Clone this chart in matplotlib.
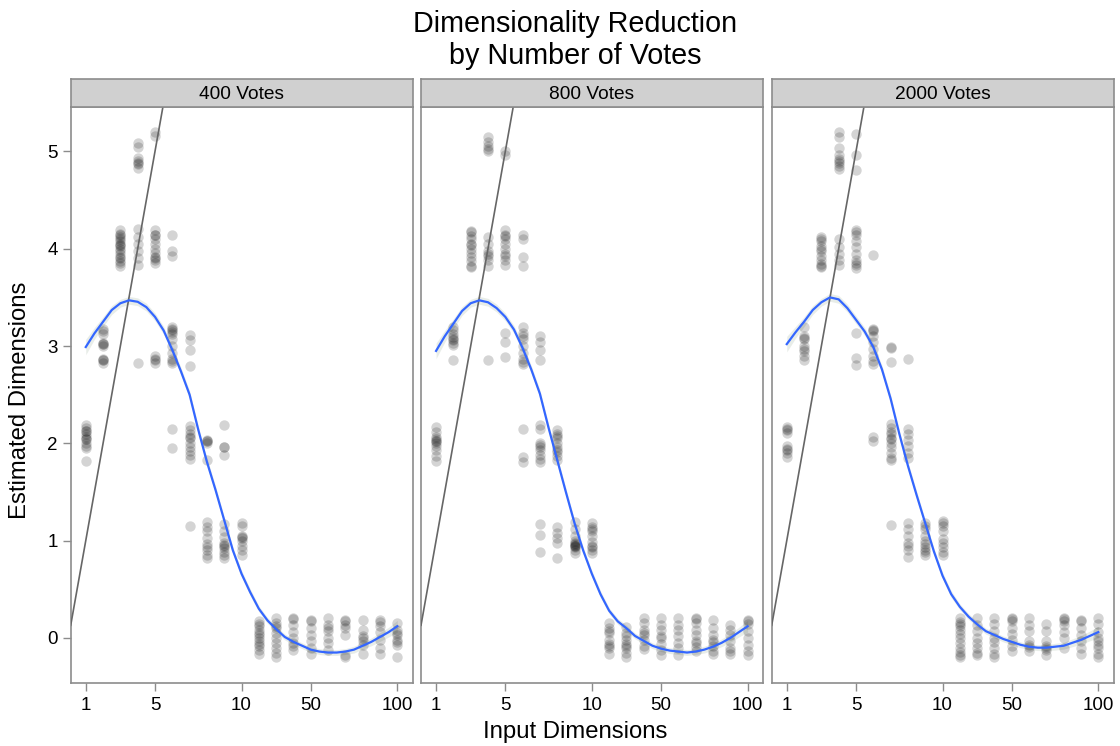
import matplotlib
matplotlib.use("Agg")
import matplotlib.pyplot as plt
import numpy as np

plt.rcParams['font.family'] = ['Liberation Sans', 'DejaVu Sans']

# input dimensions, evenly spaced by rank on the x axis
dims = [1, 2, 3, 4, 5, 6, 7, 8, 9, 10, 20, 30, 40, 50, 60, 70, 80, 90, 100]
tick_dims = [1, 5, 10, 50, 100]
panel_titles = ["400 Votes", "800 Votes", "2000 Votes"]

# estimated dimensions per input dimension (one list per column)
est_400 = [
    [2.19, 2.16, 2.13, 2.13, 2.10, 2.07, 2.04, 2.04, 2.0, 1.97, 1.95, 1.82],
    [3.18, 3.15, 3.12, 3.03, 3.02, 3.02, 3.0, 2.87, 2.86, 2.86, 2.83],
    [4.19, 4.15, 4.14, 4.12, 4.1, 4.08, 4.05, 4.04, 4.03, 4.0, 3.98, 3.95, 3.92, 3.9, 3.87, 3.85, 3.82],
    [5.09, 5.05, 4.93, 4.90, 4.88, 4.87, 4.83, 4.2, 4.12, 4.05, 3.98, 3.9, 3.83, 2.83],
    [5.2, 5.16, 4.19, 4.14, 4.14, 4.1, 4.05, 4.0, 3.96, 3.92, 3.9, 3.88, 3.85, 2.9, 2.87, 2.86, 2.83],
    [4.14, 3.98, 3.93, 3.2, 3.18, 3.17, 3.14, 3.12, 3.07, 3.0, 2.93, 2.87, 2.85, 2.83, 2.15, 1.95],
    [3.11, 3.06, 2.96, 2.8, 2.18, 2.14, 2.1, 2.07, 2.05, 2.0, 1.96, 1.92, 1.88, 1.84, 1.15],
    [2.03, 2.02, 2.02, 2.0, 1.83, 1.19, 1.14, 1.1, 1.03, 0.97, 0.93, 0.9, 0.85, 0.82],
    [2.19, 1.96, 1.96, 1.88, 1.17, 1.1, 1.04, 0.98, 0.96, 0.95, 0.92, 0.88, 0.85, 0.82],
    [1.18, 1.15, 1.05, 1.04, 1.03, 1.0, 0.95, 0.9, 0.85],
    [0.17, 0.14, 0.12, 0.08, 0.05, 0.03, 0.0, -0.03, -0.06, -0.08, -0.12, -0.17],
    [0.2, 0.15, 0.12, 0.1, 0.05, 0.0, -0.05, -0.1, -0.15, -0.2],
    [0.2, 0.19, 0.13, 0.06, 0.0, -0.05, -0.08, -0.12],
    [0.18, 0.17, 0.1, 0.03, -0.03, -0.1, -0.17],
    [0.2, 0.13, 0.1, 0.07, 0.0, -0.05, -0.12],
    [0.18, 0.17, 0.13, 0.1, 0.03, -0.18, -0.2],
    [0.18, 0.08, 0.02, 0.0, -0.03, -0.07, -0.17],
    [0.18, 0.16, 0.12, 0.06, -0.02, -0.1, -0.17],
    [0.15, 0.08, 0.05, 0.03, -0.02, -0.04, -0.07, -0.2],
]
est_800 = [
    [2.17, 2.12, 2.07, 2.04, 2.02, 2.02, 2.0, 1.97, 1.93, 1.87, 1.82],
    [3.2, 3.16, 3.12, 3.09, 3.07, 3.06, 3.03, 3.01, 2.86],
    [4.18, 4.17, 4.13, 4.1, 4.05, 4.04, 4.0, 3.96, 3.92, 3.87, 3.82, 3.81],
    [5.15, 5.1, 5.06, 5.03, 5.0, 4.12, 4.05, 3.98, 3.95, 3.93, 3.88, 3.82, 2.86],
    [5.0, 4.96, 4.19, 4.14, 4.13, 4.1, 4.05, 4.0, 3.95, 3.93, 3.88, 3.83, 3.13, 3.04, 2.89],
    [4.14, 4.1, 3.92, 3.82, 3.2, 3.13, 3.1, 3.07, 3.0, 2.93, 2.87, 2.84, 2.82, 2.15, 1.86, 1.81],
    [3.1, 3.04, 2.96, 2.86, 2.19, 2.15, 2.0, 1.98, 1.96, 1.93, 1.88, 1.84, 1.81, 1.17, 1.06, 0.88],
    [2.14, 2.1, 2.08, 2.06, 2.0, 1.96, 1.93, 1.91, 1.87, 1.83, 1.14, 1.08, 1.03, 0.98, 0.82],
    [1.19, 1.12, 1.05, 1.0, 0.98, 0.97, 0.96, 0.95, 0.94, 0.93, 0.9, 0.87],
    [1.18, 1.14, 1.12, 1.1, 1.05, 0.99, 0.95, 0.93, 0.9, 0.87],
    [0.15, 0.1, 0.07, 0.05, -0.02, -0.06, -0.08, -0.1, -0.16],
    [0.11, 0.05, 0.02, -0.02, -0.06, -0.08, -0.1, -0.15, -0.2],
    [0.2, 0.15, 0.08, 0.05, 0.03, -0.02, -0.08, -0.11],
    [0.2, 0.13, 0.08, 0.02, 0.0, -0.06, -0.12, -0.18],
    [0.2, 0.13, 0.08, 0.02, -0.05, -0.1, -0.18],
    [0.2, 0.19, 0.15, 0.08, 0.03, -0.03, -0.05, -0.09, -0.13],
    [0.18, 0.1, 0.03, -0.02, -0.04, -0.08, -0.13, -0.16],
    [0.13, 0.08, 0.03, -0.03, -0.1, -0.13, -0.17],
    [0.18, 0.17, 0.14, 0.07, 0.0, -0.07, -0.13, -0.18],
]
est_2000 = [
    [2.17, 2.15, 2.14, 2.11, 1.97, 1.94, 1.93, 1.9, 1.86],
    [3.2, 3.1, 3.08, 3.07, 3.0, 2.97, 2.95, 2.9, 2.86],
    [4.12, 4.1, 4.08, 4.03, 4.0, 3.98, 3.93, 3.88, 3.84, 3.82, 3.81],
    [5.2, 5.15, 5.04, 4.96, 4.92, 4.9, 4.88, 4.85, 4.82, 4.1, 4.02, 3.95, 3.88, 3.83],
    [5.18, 4.96, 4.81, 4.19, 4.17, 4.14, 4.08, 4.02, 3.95, 3.88, 3.85, 3.83, 3.8, 3.13, 2.88, 2.81],
    [3.94, 3.18, 3.16, 3.15, 3.1, 3.04, 2.97, 2.9, 2.85, 2.82, 2.07, 2.02],
    [2.99, 2.98, 2.84, 2.2, 2.16, 2.12, 2.1, 2.05, 2.04, 2.0, 1.96, 1.9, 1.85, 1.83, 1.16],
    [2.87, 2.15, 2.1, 2.03, 1.97, 1.9, 1.85, 1.18, 1.12, 1.05, 0.98, 0.95, 0.9, 0.83],
    [1.18, 1.15, 1.12, 1.05, 1.0, 0.97, 0.93, 0.9, 0.88, 0.85],
    [1.2, 1.18, 1.15, 1.1, 1.02, 0.98, 0.93, 0.88, 0.85],
    [0.2, 0.16, 0.14, 0.12, 0.08, 0.04, 0.0, -0.05, -0.1, -0.14, -0.18, -0.2],
    [0.2, 0.13, 0.07, 0.0, -0.05, -0.1, -0.15, -0.18],
    [0.2, 0.14, 0.07, 0.0, -0.04, -0.1, -0.16, -0.2],
    [0.2, 0.19, 0.17, 0.1, 0.04, -0.02, -0.08, -0.13],
    [0.2, 0.13, 0.07, -0.03, -0.07, -0.09, -0.13],
    [0.14, 0.07, -0.03, -0.08, -0.1, -0.12, -0.18],
    [0.2, 0.19, 0.17, 0.13, 0.06, 0.0, -0.1],
    [0.18, 0.17, 0.1, 0.03, -0.03, -0.1, -0.17],
    [0.2, 0.14, 0.06, 0.0, -0.03, -0.07, -0.1, -0.16, -0.2],
]

# loess fit, evaluated every half step along the x axis
smooth_pos = np.arange(0, 18.5, 0.5)
fit_400 = [2.99, 3.13, 3.25, 3.37, 3.44, 3.47, 3.455, 3.40, 3.30, 3.16, 2.96, 2.74,
           2.50, 2.14, 1.81, 1.52, 1.21, 0.90, 0.66, 0.47, 0.30, 0.18, 0.09, 0.01,
           -0.04, -0.08, -0.12, -0.14, -0.15, -0.15, -0.14, -0.12, -0.08, -0.04, 0.01, 0.06, 0.12]
fit_800 = [2.95, 3.10, 3.23, 3.36, 3.44, 3.47, 3.45, 3.39, 3.30, 3.17, 2.98, 2.76,
           2.51, 2.16, 1.83, 1.50, 1.18, 0.90, 0.66, 0.45, 0.28, 0.17, 0.10, 0.02,
           -0.03, -0.08, -0.11, -0.13, -0.14, -0.15, -0.14, -0.12, -0.09, -0.05, 0.00, 0.06, 0.12]
fit_2000 = [3.02, 3.14, 3.25, 3.37, 3.45, 3.50, 3.48, 3.39, 3.27, 3.15, 2.99, 2.76,
            2.46, 2.10, 1.77, 1.47, 1.18, 0.89, 0.64, 0.45, 0.32, 0.22, 0.14, 0.07,
            0.03, -0.01, -0.04, -0.07, -0.09, -0.10, -0.10, -0.09, -0.08, -0.05, -0.02, 0.02, 0.06]
fit_se = [0.08, 0.06, 0.05, 0.045, 0.04, 0.04, 0.04, 0.04, 0.04, 0.04, 0.04, 0.04,
          0.04, 0.04, 0.04, 0.04, 0.035, 0.035, 0.035, 0.035, 0.03, 0.03, 0.03, 0.03,
          0.03, 0.03, 0.03, 0.03, 0.03, 0.03, 0.03, 0.035, 0.035, 0.04, 0.045, 0.05, 0.06]

panel_points = [est_400, est_800, est_2000]
panel_fits = [fit_400, fit_800, fit_2000]

border = '#8c8c8c'
W, H = 1120, 746
fig = plt.figure(figsize=(W / 100, H / 100), dpi=100)

pos = np.arange(len(dims))
lefts = [70.7, 421.0, 771.7]
pw = 342.0
top_px, bottom_px, strip_px = 106.7, 682.7, 28.0

for k, left in enumerate(lefts):
    ax = fig.add_axes([left / W, 1 - bottom_px / H, pw / W, (bottom_px - top_px) / H])

    xs = np.concatenate([np.full(len(col), p) for p, col in zip(pos, panel_points[k])])
    ys = np.concatenate([np.asarray(col, dtype=float) for col in panel_points[k]])
    ax.scatter(xs, ys, s=56, color='black', alpha=0.17, linewidths=0, zorder=2)

    # identity line y = x
    i1, i2 = dims.index(1), dims.index(2)
    ax.axline((pos[i1], 1), (pos[i2], 2), color='#666666', lw=1.2, zorder=3)

    fit = np.asarray(panel_fits[k])
    se = np.asarray(fit_se)
    ax.fill_between(smooth_pos, fit - se, fit + se, color='#e3e9e3', alpha=0.8, lw=0, zorder=1)
    ax.plot(smooth_pos, fit, color='#3366FF', lw=1.6, zorder=4)

    ax.set_xlim(-0.87, 18.89)
    ax.set_ylim(-0.46, 5.46)
    ax.set_xticks([pos[dims.index(d)] for d in tick_dims])
    ax.set_xticklabels([str(d) for d in tick_dims])
    ax.tick_params(axis='both', direction='out', length=6, width=1, color=border,
                   labelsize=13.5, labelcolor='black')
    ax.tick_params(axis='x', pad=4.5)
    ax.tick_params(axis='y', pad=3.5)
    if k == 0:
        ax.set_yticks([0, 1, 2, 3, 4, 5])
    else:
        ax.set_yticks([])
    for sp in ax.spines.values():
        sp.set_color(border)
        sp.set_linewidth(1.2)

    # facet strip
    sax = fig.add_axes([left / W, 1 - top_px / H, pw / W, strip_px / H])
    sax.set_facecolor('#d0d0d0')
    sax.set_xticks([])
    sax.set_yticks([])
    for sp in sax.spines.values():
        sp.set_color(border)
        sp.set_linewidth(1.2)
    sax.text(0.5, 0.45, panel_titles[k], transform=sax.transAxes, ha='center', va='center',
             fontsize=13.8, color='black')

fig.text(575 / W, 1 - 31.7 / H, "Dimensionality Reduction", ha='center', va='baseline',
         fontsize=20.7)
fig.text(575 / W, 1 - 64.5 / H, "by Number of Votes", ha='center', va='baseline',
         fontsize=20.7)
fig.text(575 / W, 1 - 738 / H, "Input Dimensions", ha='center', va='baseline', fontsize=17.2)
fig.text(20 / W, 1 - 400 / H, "Estimated Dimensions", ha='center', va='center',
         rotation=90, fontsize=17.2)

fig.savefig("out.png", dpi=100)
